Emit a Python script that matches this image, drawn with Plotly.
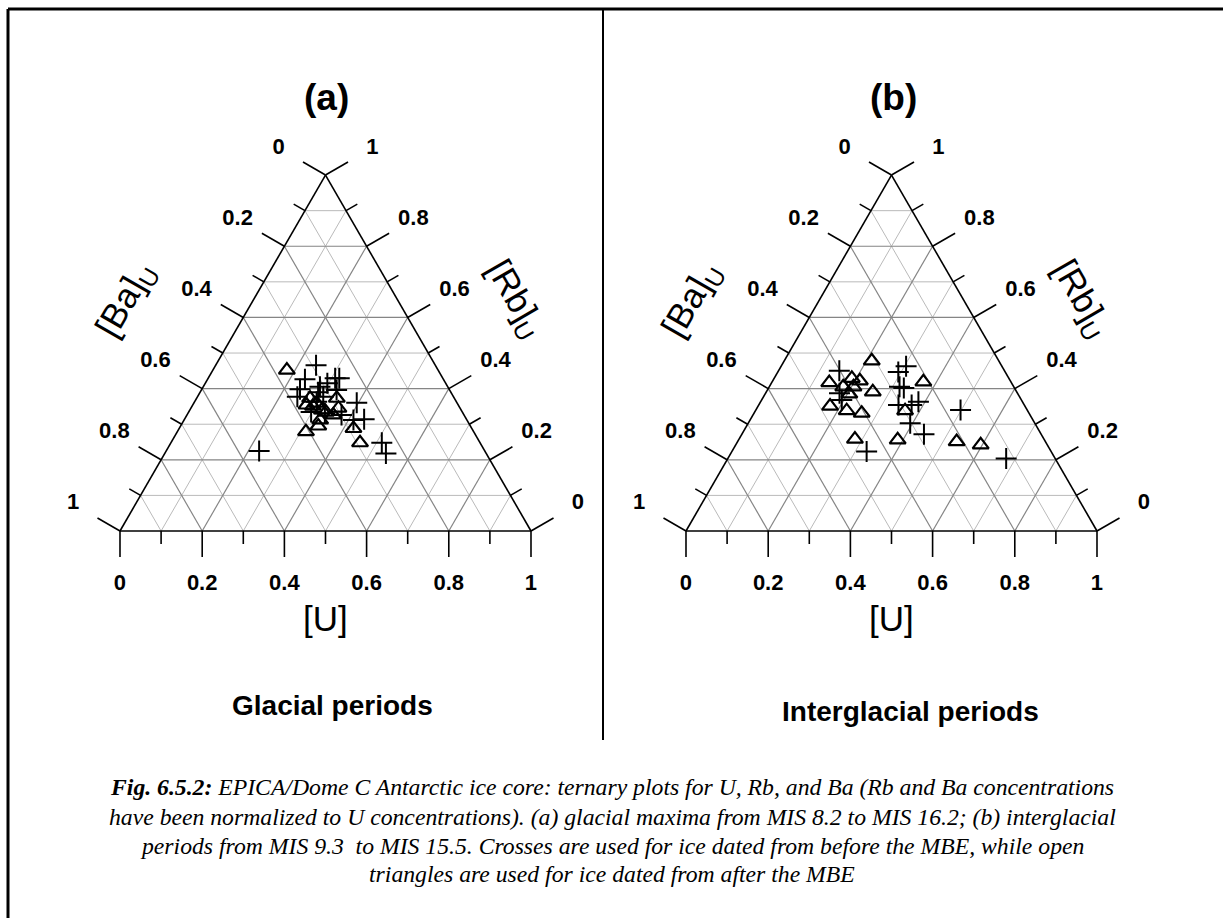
import plotly.graph_objects as go

# ---------------- data (ternary fractions) ----------------
# Panel (a) glacial periods -- crosses (before MBE)
a_cross_U  = [0.244, 0.237, 0.239, 0.243, 0.284, 0.297, 0.309, 0.319, 0.329, 0.396, 0.412,
              0.437, 0.513, 0.538, 0.226, 0.297, 0.306, 0.333, 0.376, 0.298, 0.287]
a_cross_Rb = [0.466, 0.426, 0.398, 0.377, 0.405, 0.415, 0.429, 0.429, 0.396, 0.360, 0.312,
              0.314, 0.248, 0.218, 0.225, 0.363, 0.377, 0.331, 0.326, 0.334, 0.390]
a_cross_Ba = [0.290, 0.337, 0.363, 0.380, 0.311, 0.288, 0.262, 0.252, 0.275, 0.244, 0.276,
              0.249, 0.239, 0.244, 0.549, 0.340, 0.317, 0.336, 0.298, 0.368, 0.323]
# Panel (a) -- triangles (after MBE)
a_tri_U  = [0.180, 0.276, 0.277, 0.299, 0.321, 0.341, 0.359, 0.356, 0.331, 0.335, 0.313,
            0.424, 0.460, 0.294, 0.334]
a_tri_Rb = [0.452, 0.373, 0.354, 0.359, 0.340, 0.373, 0.345, 0.326, 0.312, 0.295, 0.279,
            0.288, 0.248, 0.351, 0.334]
a_tri_Ba = [0.368, 0.351, 0.369, 0.342, 0.339, 0.286, 0.296, 0.318, 0.357, 0.370, 0.408,
            0.288, 0.292, 0.355, 0.332]

# Panel (b) interglacial periods -- crosses
b_cross_U  = [0.148, 0.304, 0.293, 0.317, 0.329, 0.180, 0.195, 0.340, 0.384, 0.372, 0.394,
              0.443, 0.498, 0.328, 0.677]
b_cross_Rb = [0.450, 0.463, 0.447, 0.405, 0.402, 0.387, 0.368, 0.354, 0.363, 0.354, 0.303,
              0.272, 0.340, 0.223, 0.204]
b_cross_Ba = [0.402, 0.233, 0.260, 0.278, 0.269, 0.433, 0.437, 0.306, 0.253, 0.274, 0.303,
              0.285, 0.162, 0.449, 0.119]
# Panel (b) -- triangles
b_tri_U  = [0.213, 0.140, 0.189, 0.212, 0.180, 0.205, 0.205, 0.259, 0.368, 0.175, 0.222,
            0.262, 0.364, 0.282, 0.387, 0.533, 0.596]
b_tri_Rb = [0.478, 0.417, 0.429, 0.422, 0.405, 0.405, 0.385, 0.391, 0.419, 0.351, 0.338,
            0.331, 0.338, 0.258, 0.256, 0.251, 0.242]
b_tri_Ba = [0.309, 0.443, 0.382, 0.366, 0.415, 0.390, 0.410, 0.350, 0.213, 0.474, 0.440,
            0.407, 0.298, 0.460, 0.357, 0.216, 0.162]

major_ticks = [0, 0.2, 0.4, 0.6, 0.8, 1]
major_labels = ["0", "0.2", "0.4", "0.6", "0.8", "1"]
minor_ticks = [0.1, 0.3, 0.5, 0.7, 0.9]

panel_titles = ["(a)", "(b)"]
panel_names = ["Glacial periods", "Interglacial periods"]
caption_lines = [
    "<i><b>Fig. 6.5.2:</b> EPICA/Dome C Antarctic ice core: ternary plots for U, Rb, and Ba (Rb and Ba concentrations</i>",
    "<i>have been normalized to U concentrations). (a) glacial maxima from MIS 8.2 to MIS 16.2; (b) interglacial</i>",
    "<i>periods from MIS 9.3  to MIS 15.5. Crosses are used for ice dated from before the MBE, while open</i>",
    "<i>triangles are used for ice dated from after the MBE</i>",
]

# ---------------- figure ----------------
W, H = 1223, 918
SIDE = 411.0               # side of the composition triangle, px
TRI_H = SIDE * 3 ** 0.5 / 2
PAD = 0.156                # ternary room kept around the triangle for ticks and labels
FONT = "Liberation Sans"


def px(x):
    return x / W


def py(y):
    return 1 - y / H


def shift(vals):
    # move compositions into the padded ternary subplot (its sum is 1 + 3*PAD)
    return [None if v is None else v + PAD for v in vals]


# Plotly subplot: a = [Rb] (top), b = [Ba] (bottom-left), c = [U] (bottom-right)
def side_pt(side, v, out=0.0):
    """point on a side at reference-axis value v, pushed `out` (ternary units) outward"""
    h = out / 2
    if side == "U":      # bottom side, [U] = v
        return (-out, 1 - v + h, v + h)
    if side == "Ba":     # left side, [Ba] = v
        return (1 - v + h, v + h, -out)
    return (v + h, -out, 1 - v + h)  # right side, [Rb] = v


fig = go.Figure()


def seg_trace(sub, segs, color, width):
    A, B, C = [], [], []
    for p0, p1 in segs:
        A += [p0[0], p1[0], None]; B += [p0[1], p1[1], None]; C += [p0[2], p1[2], None]
    fig.add_trace(go.Scatterternary(a=shift(A), b=shift(B), c=shift(C), mode="lines",
                                    subplot=sub, line=dict(color=color, width=width),
                                    cliponaxis=False, hoverinfo="skip", showlegend=False))


def grid_segs(vals):
    segs = []
    for v in vals:
        segs.append(((v, 1 - v, 0), (v, 0, 1 - v)))
        segs.append(((1 - v, v, 0), (0, v, 1 - v)))
        segs.append(((1 - v, 0, v), (0, 1 - v, v)))
    return segs


def frame_traces(sub):
    seg_trace(sub, grid_segs(minor_ticks), "#bababa", 1)
    seg_trace(sub, grid_segs(major_ticks[1:-1]), "#858585", 1.2)
    outline = [((1, 0, 0), (0, 1, 0)), ((0, 1, 0), (0, 0, 1)), ((0, 0, 1), (1, 0, 0))]
    ticks = []
    for side in ("U", "Ba", "Rb"):
        for vals, ln in ((major_ticks, 26), (minor_ticks, 13)):
            for v in vals:
                ticks.append((side_pt(side, v), side_pt(side, v, ln / TRI_H)))
    seg_trace(sub, outline + ticks, "black", 1.6)
    A, B, C, T = [], [], [], []
    for side in ("U", "Ba", "Rb"):
        for v, lab in zip(major_ticks, major_labels):
            p = side_pt(side, v, 54 / TRI_H)
            A.append(p[0]); B.append(p[1]); C.append(p[2]); T.append(f"<b>{lab}</b>")
    fig.add_trace(go.Scatterternary(a=shift(A), b=shift(B), c=shift(C), mode="text", text=T,
                                    subplot=sub, textposition="middle center", cliponaxis=False,
                                    textfont=dict(family=FONT, size=22, color="black"),
                                    hoverinfo="skip", showlegend=False))


def data_traces(sub, cU, cRb, cBa, tU, tRb, tBa):
    fig.add_trace(go.Scatterternary(a=shift(cRb), b=shift(cBa), c=shift(cU), mode="markers",
                                    subplot=sub,
                                    marker=dict(symbol="cross-thin-open", size=15, color="black",
                                                line=dict(color="black", width=2)),
                                    name="before MBE", showlegend=False))
    fig.add_trace(go.Scatterternary(a=shift(tRb), b=shift(tBa), c=shift(tU), mode="markers",
                                    subplot=sub,
                                    marker=dict(symbol="triangle-up-open", size=14, color="black",
                                                line=dict(color="black", width=2.2)),
                                    name="after MBE", showlegend=False))


frame_traces("ternary")
data_traces("ternary", a_cross_U, a_cross_Rb, a_cross_Ba, a_tri_U, a_tri_Rb, a_tri_Ba)
frame_traces("ternary2")
data_traces("ternary2", b_cross_U, b_cross_Rb, b_cross_Ba, b_tri_U, b_tri_Rb, b_tri_Ba)

axis = dict(ticks="", showticklabels=False, showline=False, showgrid=False,
            title=dict(text=""), min=0)


def tern(x_left, y_base):
    # domain of the padded ternary region, concentric with the composition triangle
    cx = x_left + SIDE / 2
    cy = y_base - TRI_H / 3
    s = SIDE * (1 + 3 * PAD)
    h = s * 3 ** 0.5 / 2
    return dict(sum=1 + 3 * PAD, bgcolor="rgba(0,0,0,0)",
                domain=dict(x=[px(cx - s / 2), px(cx + s / 2)],
                            y=[py(cy + h / 3), py(cy - 2 * h / 3)]),
                aaxis=axis, baxis=axis, caxis=axis)


ann = []
offsets = [0, 566]
for i, off in enumerate(offsets):
    ann.append(dict(x=px(327 + off), y=py(98), text=f"<b>{panel_titles[i]}</b>",
                    font=dict(family=FONT, size=37, color="black")))
    ann.append(dict(x=px(126 + off), y=py(300), text="[Ba]<sub>U</sub>", textangle=-60,
                    font=dict(family=FONT, size=35, color="black")))
    ann.append(dict(x=px(515 + off), y=py(299), text="[Rb]<sub>U</sub>", textangle=60,
                    font=dict(family=FONT, size=35, color="black")))
    ann.append(dict(x=px(325 + off), y=py(618), text="[U]",
                    font=dict(family=FONT, size=35, color="black")))
ann.append(dict(x=px(332), y=py(705), text=f"<b>{panel_names[0]}</b>",
                font=dict(family=FONT, size=28, color="black")))
ann.append(dict(x=px(910), y=py(711), text=f"<b>{panel_names[1]}</b>",
                font=dict(family=FONT, size=28, color="black")))
for i, (line, yy) in enumerate(zip(caption_lines, [787, 817, 846, 874])):
    ann.append(dict(x=px(612), y=py(yy), text=line,
                    font=dict(family="Liberation Serif", size=23.7, color="black")))
for a in ann:
    a.update(xref="paper", yref="paper", showarrow=False, xanchor="center", yanchor="middle")

shapes = [
    dict(type="line", xref="paper", yref="paper", x0=px(8), x1=px(8), y0=py(9), y1=0,
         line=dict(color="black", width=3)),
    dict(type="line", xref="paper", yref="paper", x0=px(8), x1=1, y0=py(9), y1=py(9),
         line=dict(color="black", width=3)),
    dict(type="line", xref="paper", yref="paper", x0=px(603), x1=px(603), y0=py(9), y1=py(740),
         line=dict(color="black", width=2)),
]

fig.update_layout(width=W, height=H, margin=dict(l=0, r=0, t=0, b=0),
                  paper_bgcolor="white", plot_bgcolor="white", showlegend=False,
                  ternary=tern(120, 531), ternary2=tern(686, 531),
                  annotations=ann, shapes=shapes)

fig.write_html("out.html", config={"displayModeBar": False},
               post_script="document.body.style.margin='0px';")
